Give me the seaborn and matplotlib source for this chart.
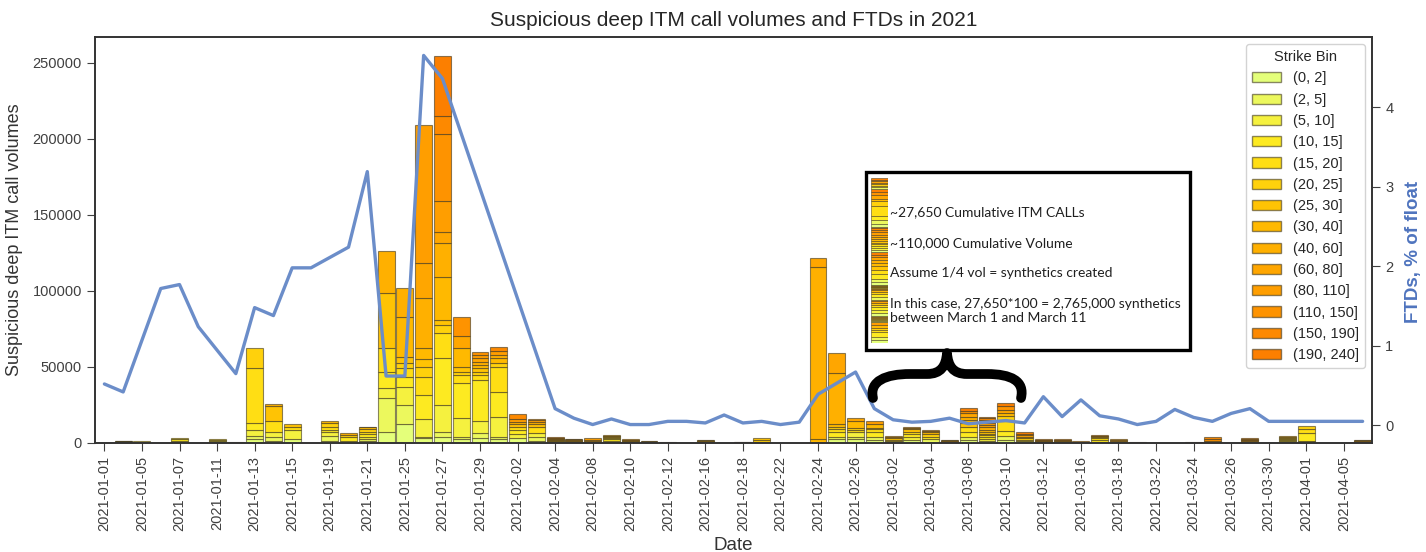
import numpy as np
import pandas as pd
import matplotlib
matplotlib.use("Agg")
import matplotlib.pyplot as plt
import seaborn as sns
from matplotlib.patches import Rectangle, PathPatch, Patch
from matplotlib.path import Path

# trading days shown on the x axis (every weekday, 01-01 .. 04-06)
dates = pd.bdate_range("2021-01-01", "2021-04-06").strftime("%Y-%m-%d").tolist()

strike_bins = ["(0, 2]", "(2, 5]", "(5, 10]", "(10, 15]", "(15, 20]", "(20, 25]",
               "(25, 30]", "(30, 40]", "(40, 60]", "(60, 80]", "(80, 110]",
               "(110, 150]", "(150, 190]", "(190, 240]"]

# call volume per strike bin, one value per date
vol_0_2 = [0, 300, 300, 0, 0, 0, 0, 0, 2400, 1500,
           2400, 0, 1500, 0, 1500, 7000, 12300, 3100, 4100, 2400,
           3500, 2400, 3100, 1500, 0, 0, 0, 0, 0, 0,
           0, 0, 0, 0, 0, 0, 0, 0, 0, 2400,
           2400, 2000, 0, 2000, 0, 0, 2000, 1000, 2000, 0,
           0, 0, 0, 0, 0, 0, 0, 0, 0, 0,
           0, 0, 0, 0, 500, 0, 0, 0]
vol_2_5 = [0, 300, 300, 0, 500, 0, 400, 0, 2200, 2600,
           0, 0, 3300, 1500, 1100, 22400, 12700, 1000, 2900, 1700,
           3300, 1700, 0, 2600, 0, 0, 0, 800, 0, 0,
           0, 0, 0, 0, 0, 0, 0, 0, 0, 1700,
           1700, 2100, 800, 0, 2400, 0, 2100, 0, 2400, 1000,
           0, 0, 0, 0, 0, 0, 0, 0, 0, 0,
           0, 0, 0, 600, 500, 0, 0, 0]
vol_5_10 = [0, 400, 300, 0, 1000, 0, 700, 200, 3950, 3300,
            6000, 0, 2200, 0, 1500, 6600, 11600, 11700, 18000, 12500,
            7700, 12800, 2800, 2700, 400, 0, 0, 700, 0, 0,
            0, 0, 0, 0, 0, 0, 0, 0, 0, 0,
            2900, 0, 700, 2100, 0, 0, 0, 1500, 0, 0,
            0, 0, 0, 900, 0, 0, 0, 0, 0, 0,
            0, 0, 0, 800, 600, 0, 0, 0]
vol_10_15 = [0, 300, 400, 0, 1200, 0, 800, 300, 4400, 0,
             0, 0, 1500, 2200, 1800, 10900, 7000, 15800, 30700, 22700,
             26900, 16800, 2700, 0, 400, 300, 0, 1000, 300, 0,
             0, 0, 300, 0, 0, 0, 0, 0, 0, 3300,
             0, 3300, 0, 1800, 1700, 300, 3300, 1500, 3300, 1000,
             0, 0, 0, 1100, 0, 0, 0, 0, 0, 0,
             0, 0, 0, 800, 5200, 0, 0, 0]
vol_15_20 = [0, 200, 0, 0, 800, 0, 700, 0, 36500, 7300,
             2300, 0, 2200, 0, 1500, 15400, 5500, 12000, 16500, 5400,
             3300, 16100, 2100, 3900, 300, 300, 0, 900, 300, 300,
             0, 0, 300, 0, 0, 800, 0, 0, 0, 1600,
             1600, 1600, 800, 1500, 0, 0, 3300, 1200, 6600, 0,
             300, 0, 0, 1000, 0, 0, 0, 0, 300, 0,
             0, 0, 0, 700, 2200, 0, 0, 0]
vol_20_25 = [0, 0, 0, 0, 0, 0, 0, 0, 12850, 0,
             0, 0, 2200, 1500, 1600, 0, 3300, 6600, 5400, 2200,
             2200, 2600, 0, 0, 300, 300, 300, 600, 300, 0,
             0, 0, 300, 0, 300, 1500, 0, 0, 0, 1500,
             1500, 1100, 0, 0, 1800, 300, 0, 1000, 3300, 1000,
             0, 0, 300, 800, 0, 0, 300, 0, 0, 0,
             0, 0, 0, 600, 2200, 0, 0, 300]
vol_25_30 = [0, 0, 0, 0, 0, 0, 0, 0, 0, 9600,
             1800, 0, 0, 0, 0, 36200, 4400, 4900, 3300, 2900,
             2200, 0, 1600, 1600, 300, 300, 0, 500, 300, 300,
             200, 0, 300, 0, 0, 800, 0, 0, 0, 0,
             0, 0, 800, 1600, 0, 300, 2700, 1000, 0, 0,
             300, 300, 0, 0, 0, 300, 0, 0, 0, 0,
             0, 300, 0, 500, 0, 0, 0, 300]
vol_30_40 = [0, 0, 0, 0, 0, 0, 0, 0, 0, 0,
             0, 0, 1800, 0, 1300, 0, 26300, 7200, 28500, 12500,
             2200, 3300, 0, 0, 400, 300, 400, 400, 300, 0,
             0, 0, 300, 300, 300, 0, 0, 0, 2400, 1800,
             4400, 2200, 0, 0, 1100, 300, 1700, 1500, 2000, 1000,
             300, 300, 300, 500, 500, 0, 0, 0, 0, 0,
             0, 400, 0, 0, 0, 0, 0, 300]
vol_40_60 = [0, 0, 0, 0, 0, 0, 0, 0, 0, 1400,
             0, 0, 0, 1200, 0, 27400, 18700, 32900, 22400, 0,
             2200, 2200, 1700, 1700, 300, 300, 600, 400, 300, 300,
             300, 0, 250, 0, 0, 0, 0, 0, 113200, 33600,
             0, 0, 800, 0, 0, 300, 2200, 1500, 0, 0,
             300, 400, 0, 0, 800, 300, 0, 0, 300, 0,
             0, 500, 0, 600, 0, 0, 0, 300]
vol_60_80 = [0, 0, 0, 0, 0, 0, 0, 0, 0, 0,
             0, 0, 0, 0, 400, 0, 0, 23000, 7200, 8100,
             2200, 0, 0, 0, 400, 300, 800, 0, 300, 300,
             0, 0, 250, 0, 300, 0, 0, 0, 5900, 13500,
             2100, 0, 0, 800, 800, 250, 2200, 1600, 2200, 1000,
             300, 400, 300, 500, 700, 0, 0, 0, 0, 400,
             0, 500, 0, 0, 0, 0, 0, 300]
vol_80_110 = [0, 0, 0, 0, 0, 0, 0, 0, 0, 0,
              0, 0, 0, 0, 0, 0, 0, 91000, 20400, 0,
              2200, 2800, 1800, 1000, 300, 300, 1000, 0, 300, 300,
              0, 0, 0, 0, 0, 0, 0, 0, 0, 0,
              0, 2200, 700, 0, 0, 250, 0, 1500, 0, 0,
              300, 400, 0, 0, 600, 0, 0, 0, 0, 800,
              0, 500, 0, 0, 0, 0, 0, 250]
vol_110_150 = [0, 0, 0, 0, 0, 0, 0, 0, 0, 0,
               0, 0, 0, 0, 0, 0, 0, 0, 43700, 12700,
               2200, 0, 0, 600, 300, 200, 0, 0, 0, 0,
               0, 0, 0, 0, 0, 0, 0, 0, 0, 0,
               0, 0, 0, 900, 800, 0, 1600, 1500, 2200, 1200,
               300, 400, 400, 500, 0, 0, 0, 0, 0, 1500,
               0, 500, 0, 0, 0, 0, 0, 250]
vol_150_190 = [0, 0, 0, 0, 0, 0, 0, 0, 0, 0,
               0, 0, 0, 0, 0, 0, 0, 0, 12000, 0,
               0, 2300, 3100, 0, 300, 0, 0, 0, 0, 0,
               0, 0, 0, 0, 0, 0, 0, 0, 0, 0,
               0, 0, 0, 0, 0, 0, 0, 1500, 0, 0,
               300, 400, 0, 0, 0, 0, 0, 0, 0, 1500,
               0, 400, 0, 0, 0, 0, 0, 0]
vol_190_240 = [0, 0, 0, 0, 0, 0, 0, 0, 0, 0,
               0, 0, 0, 0, 0, 0, 0, 0, 39100, 0,
               0, 0, 0, 0, 0, 0, 0, 0, 0, 0,
               0, 0, 0, 0, 0, 0, 0, 0, 0, 0,
               0, 0, 0, 0, 0, 0, 2100, 1000, 2500, 1200,
               0, 0, 0, 0, 0, 0, 0, 0, 0, 0,
               0, 0, 0, 0, 0, 0, 0, 0]

nan = np.nan
# FTDs as % of float (missing days are skipped, the line joins across them)
ftd_pct = [0.52, 0.42, nan, 1.72, 1.77, 1.24, nan, 0.65, 1.48, 1.38,
           1.98, 1.98, nan, 2.24, 3.19, 0.62, 0.62, 4.65, 4.36, nan,
           nan, nan, nan, nan, 0.21, 0.09, 0.01, 0.08, 0.01, 0.01,
           0.05, 0.05, 0.03, 0.13, 0.03, 0.05, 0.01, 0.04, 0.39, nan,
           0.67, 0.21, 0.07, 0.04, 0.05, 0.09, 0.02, 0.04, 0.06, 0.03,
           0.36, 0.11, 0.32, 0.12, 0.08, 0.01, 0.05, 0.20, 0.10, 0.05,
           0.15, 0.21, 0.05, 0.05, 0.05, 0.05, 0.05, 0.05]

note_lines = ["~27,650 Cumulative ITM CALLs",
              "~110,000 Cumulative Volume",
              "Assume 1/4 vol = synthetics created",
              "In this case, 27,650*100 = 2,765,000 synthetics\nbetween March 1 and March 11"]
note_days = dates.index("2021-03-01"), dates.index("2021-03-11")

volumes = [vol_0_2, vol_2_5, vol_5_10, vol_10_15, vol_15_20, vol_20_25, vol_25_30,
           vol_30_40, vol_40_60, vol_60_80, vol_80_110, vol_110_150, vol_150_190,
           vol_190_240]

sns.set_style("ticks")
plt.rcParams["font.family"] = ["Liberation Sans", "DejaVu Sans"]
plt.rcParams["axes.edgecolor"] = "0.2"
plt.rcParams["axes.linewidth"] = 1.2
plt.rcParams["xtick.major.size"] = 6
plt.rcParams["ytick.major.size"] = 6
plt.rcParams["xtick.color"] = "0.25"
plt.rcParams["ytick.color"] = "0.25"

W, H = 1426, 552
fig = plt.figure(figsize=(W / 100, H / 100), dpi=100)
ax = fig.add_axes([95 / W, 1 - 443 / H, (1372 - 95) / W, (443 - 37) / H])

colors = matplotlib.colormaps["Wistia"](np.linspace(0, 1, len(strike_bins)))
edge = (0.25, 0.22, 0.12, 0.6)

pos = np.arange(len(dates))
bottom = np.zeros(len(dates))
for vals, c in zip(volumes, colors):
    vals = np.asarray(vals, dtype=float)
    m = vals > 0
    ax.bar(pos[m], vals[m], bottom=bottom[m], width=0.9, color=c,
           edgecolor=edge, linewidth=0.8)
    bottom += vals

ax.set_xlim(-0.5, len(dates) - 0.5)
ax.set_ylim(0, bottom.max() * 1.05)
ax.set_xticks(pos[::2])
ax.set_xticklabels(dates[::2], rotation=90)
ax.tick_params(labelsize=10.5)
ax.set_xlabel("Date", fontsize=13.5, color="0.2")
ax.set_ylabel("Suspicious deep ITM call volumes", fontsize=13, color="0.2", labelpad=7)
ax.set_title("Suspicious deep ITM call volumes and FTDs in 2021", fontsize=15,
             color="0.15", pad=8)

# FTD line on the right axis
ax2 = ax.twinx()
ftd = pd.DataFrame({"pos": pos, "ftd": ftd_pct}).dropna()
sns.lineplot(data=ftd, x="pos", y="ftd", ax=ax2, color="#6b8dc9", linewidth=2.4,
             sort=False)
ax2.set_xlim(-0.5, len(dates) - 0.5)
ax2.set_ylabel("FTDs, % of float", fontsize=13.5, fontweight="bold", color="#4f74be",
               labelpad=6)
ax2.yaxis.set_label_coords(1.026, 0.47)
ax2.tick_params(labelsize=10.5)

handles = [Patch(facecolor=c, edgecolor=edge, label=b) for b, c in zip(strike_bins, colors)]
leg = ax2.legend(handles=handles, title="Strike Bin", loc="upper right", fontsize=10.5,
                 title_fontsize=10.5, framealpha=0.85, edgecolor="0.8",
                 labelspacing=0.5)

# note box with the stacked March 1 - 11 bars as a strip
fx = lambda x: x / W
fy = lambda y: 1 - y / H
fig.patches.append(Rectangle((fx(866), fy(350)), fx(1190) - fx(866), fy(172) - fy(350),
                             transform=fig.transFigure, facecolor="white",
                             edgecolor="black", linewidth=2.4, zorder=1))
strip = fig.add_axes([fx(871), fy(343), fx(888) - fx(871), fy(178) - fy(343)])
strip.set_zorder(5)
b = 0.0
for d in range(note_days[0], note_days[1] + 1):
    for vals, c in zip(volumes, colors):
        if vals[d] > 0:
            strip.bar(0, vals[d], bottom=b, width=1.0, color=c, edgecolor=edge,
                      linewidth=0.6)
            b += vals[d]
strip.set_xlim(-0.5, 0.5)
strip.set_ylim(0, b)
strip.axis("off")

for txt, y in zip(note_lines, [212, 243, 273, 311]):
    fig.text(fx(890), fy(y), txt, fontsize=10, family=["Lato", "DejaVu Sans"],
             color="0.12", va="center", ha="left", linespacing=1.1, zorder=3)

# curly brace under the box
pts = [(873, 398), (869, 381), (886, 374), (910, 374), (927, 374),
       (941, 374), (946, 366), (947, 353), (948, 366), (953, 374), (967, 374),
       (987, 374), (1011, 374), (1025, 381), (1021, 398)]
codes = [Path.MOVETO, Path.CURVE4, Path.CURVE4, Path.CURVE4, Path.LINETO,
         Path.CURVE4, Path.CURVE4, Path.CURVE4, Path.CURVE4, Path.CURVE4, Path.CURVE4,
         Path.LINETO, Path.CURVE4, Path.CURVE4, Path.CURVE4]
brace = Path([(fx(x), fy(y)) for x, y in pts], codes)
fig.patches.append(PathPatch(brace, transform=fig.transFigure, facecolor="none",
                             edgecolor="black", linewidth=7, capstyle="round",
                             joinstyle="round", zorder=2))

fig.savefig("out.png", dpi=100)
